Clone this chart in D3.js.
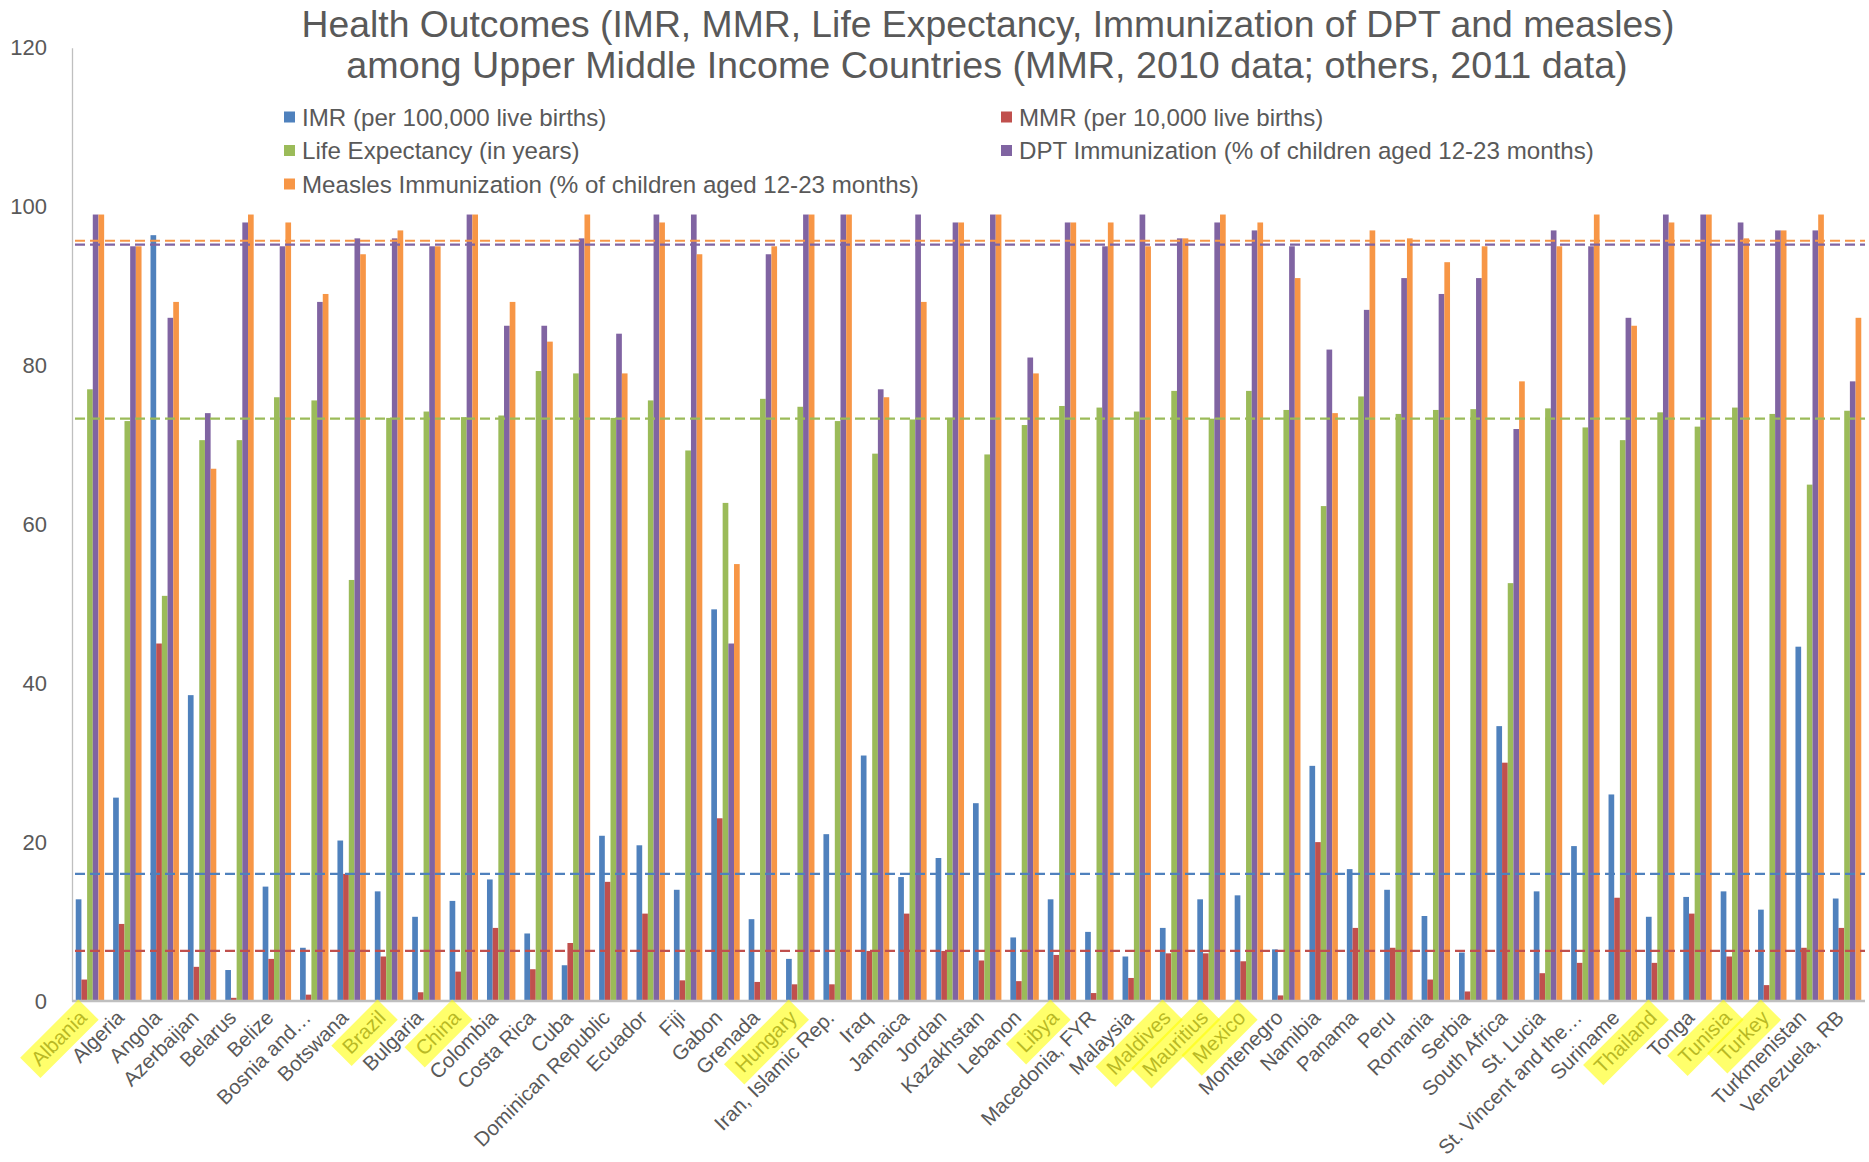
<!DOCTYPE html>
<html>
<head>
<meta charset="utf-8">
<script src="https://cdn.jsdelivr.net/npm/d3@7"></script>
<style>
  body { margin: 0; background: #fff; }
  svg text { font-family: "Liberation Sans", Arial, sans-serif; fill: #595959; }
</style>
</head>
<body>
<svg id="chart"></svg>
<script>
const countries = [
  "Albania", "Algeria", "Angola", "Azerbaijan", "Belarus", "Belize", "Bosnia and…", "Botswana",
  "Brazil", "Bulgaria", "China", "Colombia", "Costa Rica", "Cuba", "Dominican Republic", "Ecuador",
  "Fiji", "Gabon", "Grenada", "Hungary", "Iran, Islamic Rep.", "Iraq", "Jamaica", "Jordan",
  "Kazakhstan", "Lebanon", "Libya", "Macedonia, FYR", "Malaysia", "Maldives", "Mauritius", "Mexico",
  "Montenegro", "Namibia", "Panama", "Peru", "Romania", "Serbia", "South Africa", "St. Lucia",
  "St. Vincent and the…", "Suriname", "Thailand", "Tonga", "Tunisia", "Turkey", "Turkmenistan", "Venezuela, RB"
];

const highlighted = ["Albania", "Brazil", "China", "Hungary", "Libya", "Maldives", "Mauritius", "Mexico", "Thailand", "Tunisia", "Turkey"];

const seriesNames = [
  "IMR (per 100,000 live births)",
  "MMR (per 10,000 live births)",
  "Life Expectancy (in years)",
  "DPT Immunization (% of children aged 12-23 months)",
  "Measles Immunization (% of children aged 12-23 months)"
];
const seriesColors = ["#4F81BD", "#C0504D", "#9BBB59", "#8064A2", "#F79646"];

const imr = [12.8, 25.6, 96.4, 38.5, 3.9, 14.4, 6.7, 20.2, 13.8, 10.6, 12.6, 15.3, 8.5, 4.5, 20.8, 19.6,
  14.0, 49.3, 10.3, 5.3, 21.0, 30.9, 15.6, 18.0, 24.9, 8.0, 12.8, 8.7, 5.6, 9.2, 12.8, 13.3,
  6.5, 29.6, 16.6, 14.0, 10.7, 6.1, 34.6, 13.8, 19.5, 26.0, 10.6, 13.1, 13.8, 11.5, 44.6, 12.9];
const mmr = [2.7, 9.7, 45, 4.3, 0.4, 5.3, 0.8, 16, 5.6, 1.1, 3.7, 9.2, 4.0, 7.3, 15, 11,
  2.6, 23, 2.4, 2.1, 2.1, 6.3, 11, 6.3, 5.1, 2.5, 5.8, 1.0, 2.9, 6.0, 6.0, 5.0,
  0.7, 20, 9.2, 6.7, 2.7, 1.2, 30, 3.5, 4.8, 13, 4.8, 11, 5.6, 2.0, 6.7, 9.2];
const lifeExp = [77.0, 73.0, 51.0, 70.6, 70.6, 76.0, 75.6, 53.0, 73.4, 74.2, 73.5, 73.7, 79.3, 79.0, 73.4, 75.6,
  69.3, 62.7, 75.8, 74.8, 73.0, 68.9, 73.2, 73.4, 68.8, 72.5, 74.9, 74.7, 74.2, 76.8, 73.3, 76.8,
  74.4, 62.3, 76.1, 73.9, 74.4, 74.5, 52.6, 74.6, 72.2, 70.6, 74.1, 72.3, 74.7, 73.9, 65.0, 74.3];
const dpt = [99, 95, 86, 74, 98, 95, 88, 96, 96, 95, 99, 85, 85, 96, 84, 99,
  99, 45, 94, 99, 99, 77, 99, 98, 99, 81, 98, 95, 99, 96, 98, 97,
  95, 82, 87, 91, 89, 91, 72, 97, 95, 86, 99, 99, 98, 97, 97, 78];
const measles = [99, 95, 88, 67, 99, 98, 89, 94, 97, 95, 99, 88, 83, 99, 79, 98,
  94, 55, 95, 99, 99, 76, 88, 98, 99, 79, 98, 98, 95, 96, 99, 98,
  91, 74, 97, 96, 93, 95, 78, 95, 99, 85, 98, 99, 96, 97, 99, 86];

// dashed reference lines, one per series
const refValues = [16.0, 6.3, 73.3, 95.2, 95.7];

const yTicks = [0, 20, 40, 60, 80, 100, 120];
const titleLines = [
  "Health Outcomes (IMR, MMR, Life Expectancy, Immunization of DPT and measles)",
  "among Upper Middle Income Countries (MMR, 2010 data; others, 2011 data)"
];

const width = 1869;
const height = 1162;
const margin = { top: 47.7, right: 4, bottom: 161, left: 72 };

const seriesValues = [imr, mmr, lifeExp, dpt, measles];

const svg = d3.select("#chart").attr("width", width).attr("height", height);

const x0 = d3.scaleBand()
  .domain(countries)
  .range([margin.left, width - margin.right])
  .paddingInner(0.24)
  .paddingOuter(0.1);

const x1 = d3.scaleBand()
  .domain(d3.range(seriesNames.length))
  .range([0, x0.bandwidth()]);

const y = d3.scaleLinear()
  .domain([0, 120])
  .range([height - margin.bottom, margin.top]);

// fit text to a measured target width
function fitWidth(sel, target) {
  const len = sel.node().getComputedTextLength();
  const fs = parseFloat(sel.style("font-size"));
  sel.style("font-size", (fs * target / len) + "px");
}

// title
const t1 = svg.append("text").attr("x", 988).attr("y", 37).attr("text-anchor", "middle")
  .style("font-size", "36px").text(titleLines[0]);
fitWidth(t1, 1373);
const t2 = svg.append("text").attr("x", 987).attr("y", 78).attr("text-anchor", "middle")
  .style("font-size", "36px").text(titleLines[1]);
fitWidth(t2, 1282);

// legend
const legendPos = [
  { x: 284, y: 117 }, { x: 1001, y: 117 },
  { x: 284, y: 150.5 }, { x: 1001, y: 150.5 },
  { x: 284, y: 184 }
];
const legend = svg.append("g");
let legendFont = 22;
seriesNames.forEach((name, i) => {
  const p = legendPos[i];
  legend.append("rect").attr("x", p.x).attr("y", p.y - 5.5)
    .attr("width", 11).attr("height", 11).attr("fill", seriesColors[i]);
  const t = legend.append("text").attr("class", "legend-text")
    .attr("x", p.x + 18).attr("y", p.y).attr("dy", "0.36em")
    .style("font-size", "22px").text(name);
  if (i === 4) {
    legendFont = 22 * 617 / t.node().getComputedTextLength();
  }
});
legend.selectAll(".legend-text").style("font-size", legendFont + "px");

// y axis
const yAxis = svg.append("g")
  .attr("transform", `translate(${margin.left},0)`)
  .call(d3.axisLeft(y).tickValues(yTicks).tickSize(0).tickSizeOuter(0).tickPadding(25));
yAxis.select(".domain").attr("stroke", "#BFBFBF").attr("stroke-width", 1.3);
yAxis.selectAll("text").style("font-size", "22px").style("font-family", "\"Liberation Sans\", Arial, sans-serif");

// bars
const groups = svg.append("g")
  .selectAll("g")
  .data(countries)
  .join("g")
  .attr("transform", (d) => `translate(${x0(d)},0)`);

groups.selectAll("rect")
  .data((d, ci) => seriesValues.map((vals, si) => ({ si: si, value: vals[ci] })))
  .join("rect")
  .attr("x", (d) => x1(d.si))
  .attr("y", (d) => y(d.value))
  .attr("width", x1.bandwidth())
  .attr("height", (d) => y(0) - y(d.value))
  .attr("fill", (d) => seriesColors[d.si]);

// x axis line
svg.append("line")
  .attr("x1", margin.left).attr("x2", width - margin.right)
  .attr("y1", y(0)).attr("y2", y(0))
  .attr("stroke", "#BFBFBF").attr("stroke-width", 2.5);

// reference lines
svg.append("g")
  .selectAll("line")
  .data(refValues)
  .join("line")
  .attr("x1", margin.left + 3).attr("x2", width - margin.right)
  .attr("y1", (d) => y(d)).attr("y2", (d) => y(d))
  .attr("stroke", (d, i) => seriesColors[i])
  .attr("stroke-width", 2.2)
  .attr("stroke-dasharray", "10,5");

// x labels
const labelFont = 20.5;
const labels = svg.append("g")
  .selectAll("g")
  .data(countries)
  .join("g")
  .attr("transform", (d) => `translate(${x0(d) + x0.bandwidth() / 2 - 2},${y(0) + 18}) rotate(-45)`);

labels.append("text")
  .attr("text-anchor", "end")
  .style("font-size", labelFont + "px")
  .text((d) => d);

labels.filter((d) => highlighted.includes(d))
  .each(function () {
    const g = d3.select(this);
    const len = g.select("text").node().getComputedTextLength();
    g.append("rect")
      .attr("x", -len - 7)
      .attr("y", -labelFont * 1.0)
      .attr("width", len + 14)
      .attr("height", labelFont * 1.4)
      .attr("fill", "#FFFF00")
      .attr("fill-opacity", 0.58);
  });
</script>
</body>
</html>
